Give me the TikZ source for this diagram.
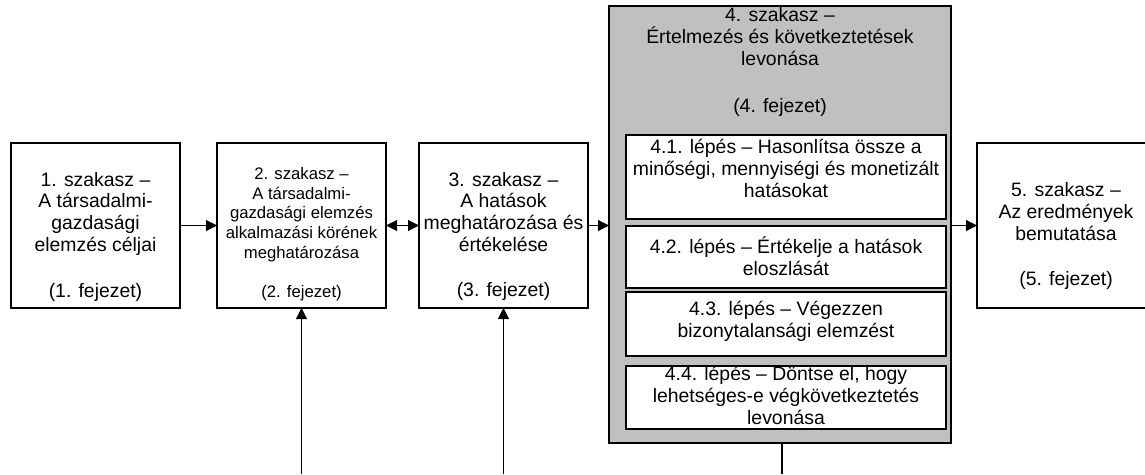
\documentclass[tikz,border=0pt]{standalone}
\usepackage{fontspec}
\setmainfont{Liberation Sans}
\usetikzlibrary{arrows.meta}
\definecolor{stagegray}{HTML}{C0C0C0}
\begin{document}
\begin{tikzpicture}[x=1pt,y=-1pt,
  stagebox/.style={draw=black, line width=1.2pt, fill=white, minimum width=169pt,
    minimum height=165pt, anchor=north west, inner sep=0pt, outer sep=0pt},
  outerbox/.style={draw=black, line width=1.2pt, fill=stagegray, minimum width=342pt,
    minimum height=437pt, anchor=north west, inner sep=0pt, outer sep=0pt},
  stepbox/.style={draw=black, line width=1.2pt, fill=white, minimum width=320pt,
    anchor=north west, inner sep=0pt, outer sep=0pt},
  bigtext/.style={align=center, inner sep=0pt, font=\fontsize{19.4}{21.7}\selectfont},
  smalltext/.style={align=center, inner sep=0pt, font=\fontsize{16.7}{19.7}\selectfont},
  tip/.style={Triangle[length=11pt,width=11pt]},
  flow/.style={line width=1.1pt, -{Triangle[length=11pt,width=11pt]}},
  twoway/.style={line width=1.1pt, {Triangle[length=11pt,width=11pt]}-{Triangle[length=11pt,width=11pt]}},
  plain/.style={line width=1.1pt}
]
\clip (0,0) rectangle (1145,474);

% stage boxes
\node[stagebox] (b1) at (11,143) {};
\node[stagebox] (b2) at (217,143) {};
\node[stagebox] (b3) at (419,143) {};
\node[stagebox, minimum width=178pt] (b5) at (977,143) {};

% stage 4 with its steps
\node[outerbox] (g) at (609,6) {};
\node[stepbox, minimum height=84pt] (s1) at (626,135) {};
\node[stepbox, minimum height=62pt] (s2) at (626,226) {};
\node[stepbox, minimum height=64pt] (s3) at (626,292) {};
\node[stepbox, minimum height=63pt] (s4) at (626,366) {};

% texts
\node[bigtext] (t1) at (95.5,237) {1. szakasz –\\A társadalmi-\\gazdasági\\elemzés céljai\\[25pt](1. fejezet)};
\node[smalltext] (t2) at (301.5,234) {2. szakasz –\\A társadalmi-\\gazdasági elemzés\\alkalmazási körének\\meghatározása\\[19.5pt](2. fejezet)};
\node[bigtext] (t3) at (503.5,236.5) {3. szakasz –\\A hatások\\meghatározása és\\értékelése\\[24pt](3. fejezet)};
\node[bigtext] (t5) at (1066,236) {5. szakasz –\\Az eredmények\\bemutatása\\[23pt](5. fejezet)};
\node[bigtext] (tg) at (780,62) {4. szakasz –\\Értelmezés és következtetések\\levonása\\[25pt](4. fejezet)};
\node[bigtext] (ts1) at (786,168.5) {4.1. lépés – Hasonlítsa össze a\\minőségi, mennyiségi és monetizált\\hatásokat};
\node[bigtext] (ts2) at (786,256) {4.2. lépés – Értékelje a hatások\\eloszlását};
\node[bigtext] (ts3) at (786,321.5) {4.3. lépés – Végezzen\\bizonytalansági elemzést};
\node[bigtext] (ts4) at (786,395.5) {4.4. lépés – Döntse el, hogy\\lehetséges-e végkövetkeztetés\\levonása};

% loose ends at the lower edge
\coordinate (c2) at (301.5,474);
\coordinate (c3) at (503.5,474);
\coordinate (c4) at (782,474);

% connectors
\draw[flow] (b1.east) -- (b2.west);
\draw[twoway] (b2.east) -- (b3.west);
\draw[flow] (b3.east) -- (b3.east -| g.west);
\draw[flow] (b5.west -| g.east) -- (b5.west);
\draw[flow] (c2) -- (b2.south);
\draw[flow] (c3) -- (b3.south);
\draw[plain] (c4 |- g.south) -- (c4);
\end{tikzpicture}
\end{document}
